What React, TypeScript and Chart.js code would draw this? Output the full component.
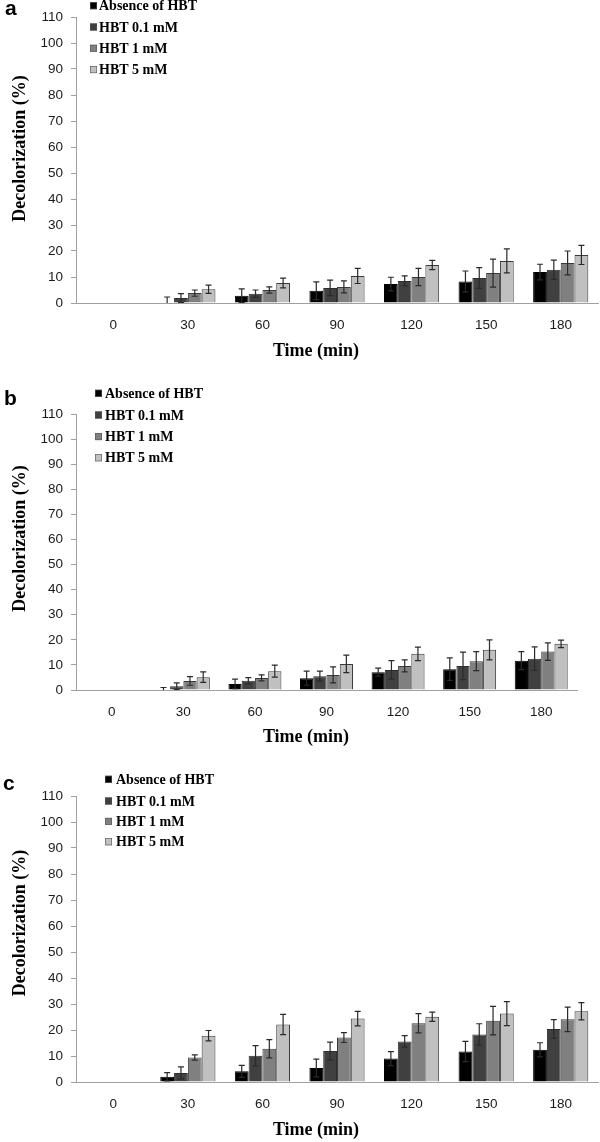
import React, { useEffect, useRef } from 'react';
import { Chart, registerables } from 'chart.js';

Chart.register(...registerables);

// ---------- data ----------
const categories = ['0', '30', '60', '90', '120', '150', '180'];
const seriesNames = ['Absence of HBT', 'HBT 0.1 mM', 'HBT 1 mM', 'HBT 5 mM'];
const seriesColors = ['#000000', '#404040', '#808080', '#c0c0c0'];
const seriesBorders = ['#000000', '#2e2e2e', '#3a3a3a', '#3a3a3a'];
const yTickValues = [0, 10, 20, 30, 40, 50, 60, 70, 80, 90, 100, 110];
const panelLabels = ['a', 'b', 'c'];
const xAxisTitle = 'Time (min)';
const yAxisTitle = 'Decolorization (%)';

// panel a
const aAbsence = [0, 0, 2.8, 4.7, 7.3, 8.3, 11.9];
const aHbt01 = [0, 1.9, 3.6, 5.8, 8.5, 9.6, 12.8];
const aHbt1 = [0, 3.8, 5.0, 6.2, 10.0, 11.5, 15.4];
const aHbt5 = [0, 5.3, 7.7, 10.4, 14.6, 16.2, 18.5];
const aAbsenceErr = [0, 2.3, 2.6, 3.4, 2.6, 4.0, 3.0];
const aHbt01Err = [0, 1.7, 1.4, 3.0, 1.9, 4.0, 3.7];
const aHbt1Err = [0, 1.2, 1.2, 2.3, 3.3, 5.4, 4.6];
const aHbt5Err = [0, 1.6, 1.9, 2.9, 1.8, 4.6, 3.7];

// panel b
const bAbsence = [0, 0, 2.4, 4.7, 7.1, 8.3, 11.7];
const bHbt01 = [0, 1.5, 3.7, 5.5, 8.0, 9.6, 12.5];
const bHbt1 = [0, 3.6, 4.8, 6.0, 9.6, 11.5, 15.3];
const bHbt5 = [0, 5.1, 7.5, 10.4, 14.4, 16.0, 18.4];
const bAbsenceErr = [0, 1.0, 1.9, 2.8, 1.6, 4.5, 3.6];
const bHbt01Err = [0, 1.3, 1.2, 2.0, 3.7, 5.5, 4.7];
const bHbt1Err = [0, 1.7, 1.2, 3.2, 2.4, 3.8, 3.5];
const bHbt5Err = [0, 2.1, 2.4, 3.5, 2.7, 4.0, 1.5];

// panel c
const cAbsence = [0, 2.0, 4.1, 5.4, 9.0, 11.7, 12.4];
const cHbt01 = [0, 3.5, 10.1, 11.9, 15.6, 18.3, 20.4];
const cHbt1 = [0, 9.4, 12.8, 17.1, 22.6, 23.6, 24.1];
const cHbt5 = [0, 17.8, 22.1, 24.4, 25.1, 26.3, 27.2];
const cAbsenceErr = [0, 1.6, 2.3, 3.4, 2.7, 3.9, 2.7];
const cHbt01Err = [0, 2.3, 3.9, 3.4, 2.2, 4.1, 3.6];
const cHbt1Err = [0, 1.0, 3.5, 1.9, 3.7, 5.5, 4.7];
const cHbt5Err = [0, 2.0, 3.9, 2.8, 1.8, 4.6, 3.3];

// ---------- layout ----------
type PanelSpec = {
  top: number;
  height: number;
  areaTop: number;
  areaBottom: number;
  right: number;
  label: string;
  labelX: number;
  labelY: number;
  legendSquareX: number;
  legendTextX: number;
  legendY: number[];
  yTitleY: number;
  xTitleX: number;
  xTitleY: number;
  values: number[][];
  errors: number[][];
};

const panels: PanelSpec[] = [
  {
    top: 0, height: 380, areaTop: 17, areaBottom: 303, right: 598,
    label: panelLabels[0], labelX: 5, labelY: 15,
    legendSquareX: 90, legendTextX: 99, legendY: [5.7, 27, 48.3, 69.6],
    yTitleY: 148.5, xTitleX: 316, xTitleY: 351,
    values: [aAbsence, aHbt01, aHbt1, aHbt5],
    errors: [aAbsenceErr, aHbt01Err, aHbt1Err, aHbt5Err],
  },
  {
    top: 380, height: 385, areaTop: 34, areaBottom: 310, right: 577,
    label: panelLabels[1], labelX: 4, labelY: 25,
    legendSquareX: 95, legendTextX: 105, legendY: [13.3, 35, 56.6, 77.8],
    yTitleY: 158.5, xTitleX: 306, xTitleY: 357,
    values: [bAbsence, bHbt01, bHbt1, bHbt5],
    errors: [bAbsenceErr, bHbt01Err, bHbt1Err, bHbt5Err],
  },
  {
    top: 765, height: 377, areaTop: 31, areaBottom: 317, right: 598,
    label: panelLabels[2], labelX: 3, labelY: 25,
    legendSquareX: 105, legendTextX: 116, legendY: [14.3, 36, 56.4, 76.8],
    yTitleY: 158, xTitleX: 316, xTitleY: 365,
    values: [cAbsence, cHbt01, cHbt1, cHbt5],
    errors: [cAbsenceErr, cHbt01Err, cHbt1Err, cHbt5Err],
  },
];

const tickFont = { family: '"Liberation Sans", Arial, sans-serif', size: 13.5 };

const overlayPlugin = {
  id: 'overlay',
  afterDatasetsDraw(chart: any, _args: any, opts: any) {
    const ctx = chart.ctx;
    const { left, right, top, bottom } = chart.chartArea;
    const yScale = chart.scales.y;
    ctx.save();
    ctx.beginPath();
    ctx.rect(left, top, right - left, bottom - top);
    ctx.clip();
    ctx.strokeStyle = '#2a2a2a';
    ctx.lineWidth = 1.2;
    chart.data.datasets.forEach((ds: any, di: number) => {
      const meta = chart.getDatasetMeta(di);
      const errs: number[] = opts.errors[di];
      meta.data.forEach((bar: any, i: number) => {
        const e = errs[i];
        if (!e) return;
        const v = ds.data[i];
        const x = bar.x;
        const yt = yScale.getPixelForValue(v + e);
        const yb = yScale.getPixelForValue(v - e);
        ctx.beginPath();
        ctx.moveTo(x, yt);
        ctx.lineTo(x, yb);
        ctx.moveTo(x - 3, yt);
        ctx.lineTo(x + 3, yt);
        ctx.moveTo(x - 3, yb);
        ctx.lineTo(x + 3, yb);
        ctx.stroke();
      });
    });
    ctx.restore();
  },
  afterDraw(chart: any, _args: any, opts: any) {
    const ctx = chart.ctx;
    const spec: PanelSpec = opts.spec;
    ctx.save();
    // panel label
    ctx.fillStyle = '#000';
    ctx.font = 'bold 21px "Liberation Sans", Arial, sans-serif';
    ctx.textAlign = 'left';
    ctx.textBaseline = 'alphabetic';
    ctx.fillText(spec.label, spec.labelX, spec.labelY);

    // legend
    ctx.font = 'bold 14px "Liberation Serif", "Times New Roman", serif';
    ctx.textBaseline = 'middle';
    chart.data.datasets.forEach((ds: any, i: number) => {
      const y = spec.legendY[i];
      ctx.fillStyle = ds.backgroundColor;
      ctx.fillRect(spec.legendSquareX, y - 3.5, 7, 7);
      ctx.strokeStyle = '#555';
      ctx.lineWidth = 0.6;
      ctx.strokeRect(spec.legendSquareX + 0.3, y - 3.2, 6.4, 6.4);
      ctx.fillStyle = '#000';
      ctx.fillText(ds.label, spec.legendTextX, y + 1);
    });

    // axis titles
    ctx.font = 'bold 18px "Liberation Serif", "Times New Roman", serif';
    ctx.textAlign = 'center';
    ctx.textBaseline = 'middle';
    ctx.fillText(xAxisTitle, spec.xTitleX, spec.xTitleY);
    ctx.translate(20, spec.yTitleY);
    ctx.rotate(-Math.PI / 2);
    ctx.fillText(yAxisTitle, 0, 0);
    ctx.restore();
  },
};

function Panel({ spec }: { spec: PanelSpec }) {
  const ref = useRef<HTMLCanvasElement | null>(null);
  useEffect(() => {
    if (!ref.current) return;
    const chart = new Chart(ref.current, {
      type: 'bar',
      data: {
        labels: categories,
        datasets: seriesNames.map((name, i) => ({
          label: name,
          data: spec.values[i],
          backgroundColor: seriesColors[i],
          borderColor: seriesBorders[i],
          borderWidth: (c: any) => (c.raw === 0 ? 0 : 1),
          borderSkipped: 'bottom',
          categoryPercentage: 0.74,
          barPercentage: 1,
        })),
      },
      options: {
        responsive: false,
        animation: false,
        layout: { padding: { top: spec.areaTop, right: 600 - spec.right, bottom: 0, left: 0 } },
        plugins: {
          legend: { display: false },
          tooltip: { enabled: false },
          overlay: { spec, errors: spec.errors },
        } as any,
        scales: {
          x: {
            grid: { display: true, drawOnChartArea: false, drawTicks: false, color: '#a0a0a0' },
            border: { display: true, color: '#a0a0a0', width: 1 },
            ticks: { font: tickFont, color: '#1a1a1a', padding: 14, maxRotation: 0, autoSkip: false },
            afterFit: (s: any) => {
              s.height = spec.height - spec.areaBottom;
            },
          },
          y: {
            min: 0,
            max: 110,
            afterBuildTicks: (s: any) => {
              s.ticks = yTickValues.map((v) => ({ value: v }));
            },
            ticks: { font: tickFont, color: '#1a1a1a', padding: 8 },
            grid: { display: true, drawOnChartArea: false, drawTicks: true, tickLength: 5, color: '#a0a0a0' },
            border: { display: true, color: '#a0a0a0', width: 1 },
            afterFit: (s: any) => {
              s.width = 76;
            },
          },
        },
      } as any,
      plugins: [overlayPlugin as any],
    });
    return () => chart.destroy();
  }, [spec]);
  return (
    <canvas
      ref={ref}
      width={600}
      height={spec.height}
      style={{ position: 'absolute', left: 0, top: spec.top, width: 600, height: spec.height, display: 'block' }}
    />
  );
}

export default function App() {
  return (
    <div style={{ position: 'absolute', left: 0, top: 0, width: 600, height: 1142, background: '#ffffff', overflow: 'hidden' }}>
      {panels.map((p) => (
        <Panel key={p.label} spec={p} />
      ))}
    </div>
  );
}
